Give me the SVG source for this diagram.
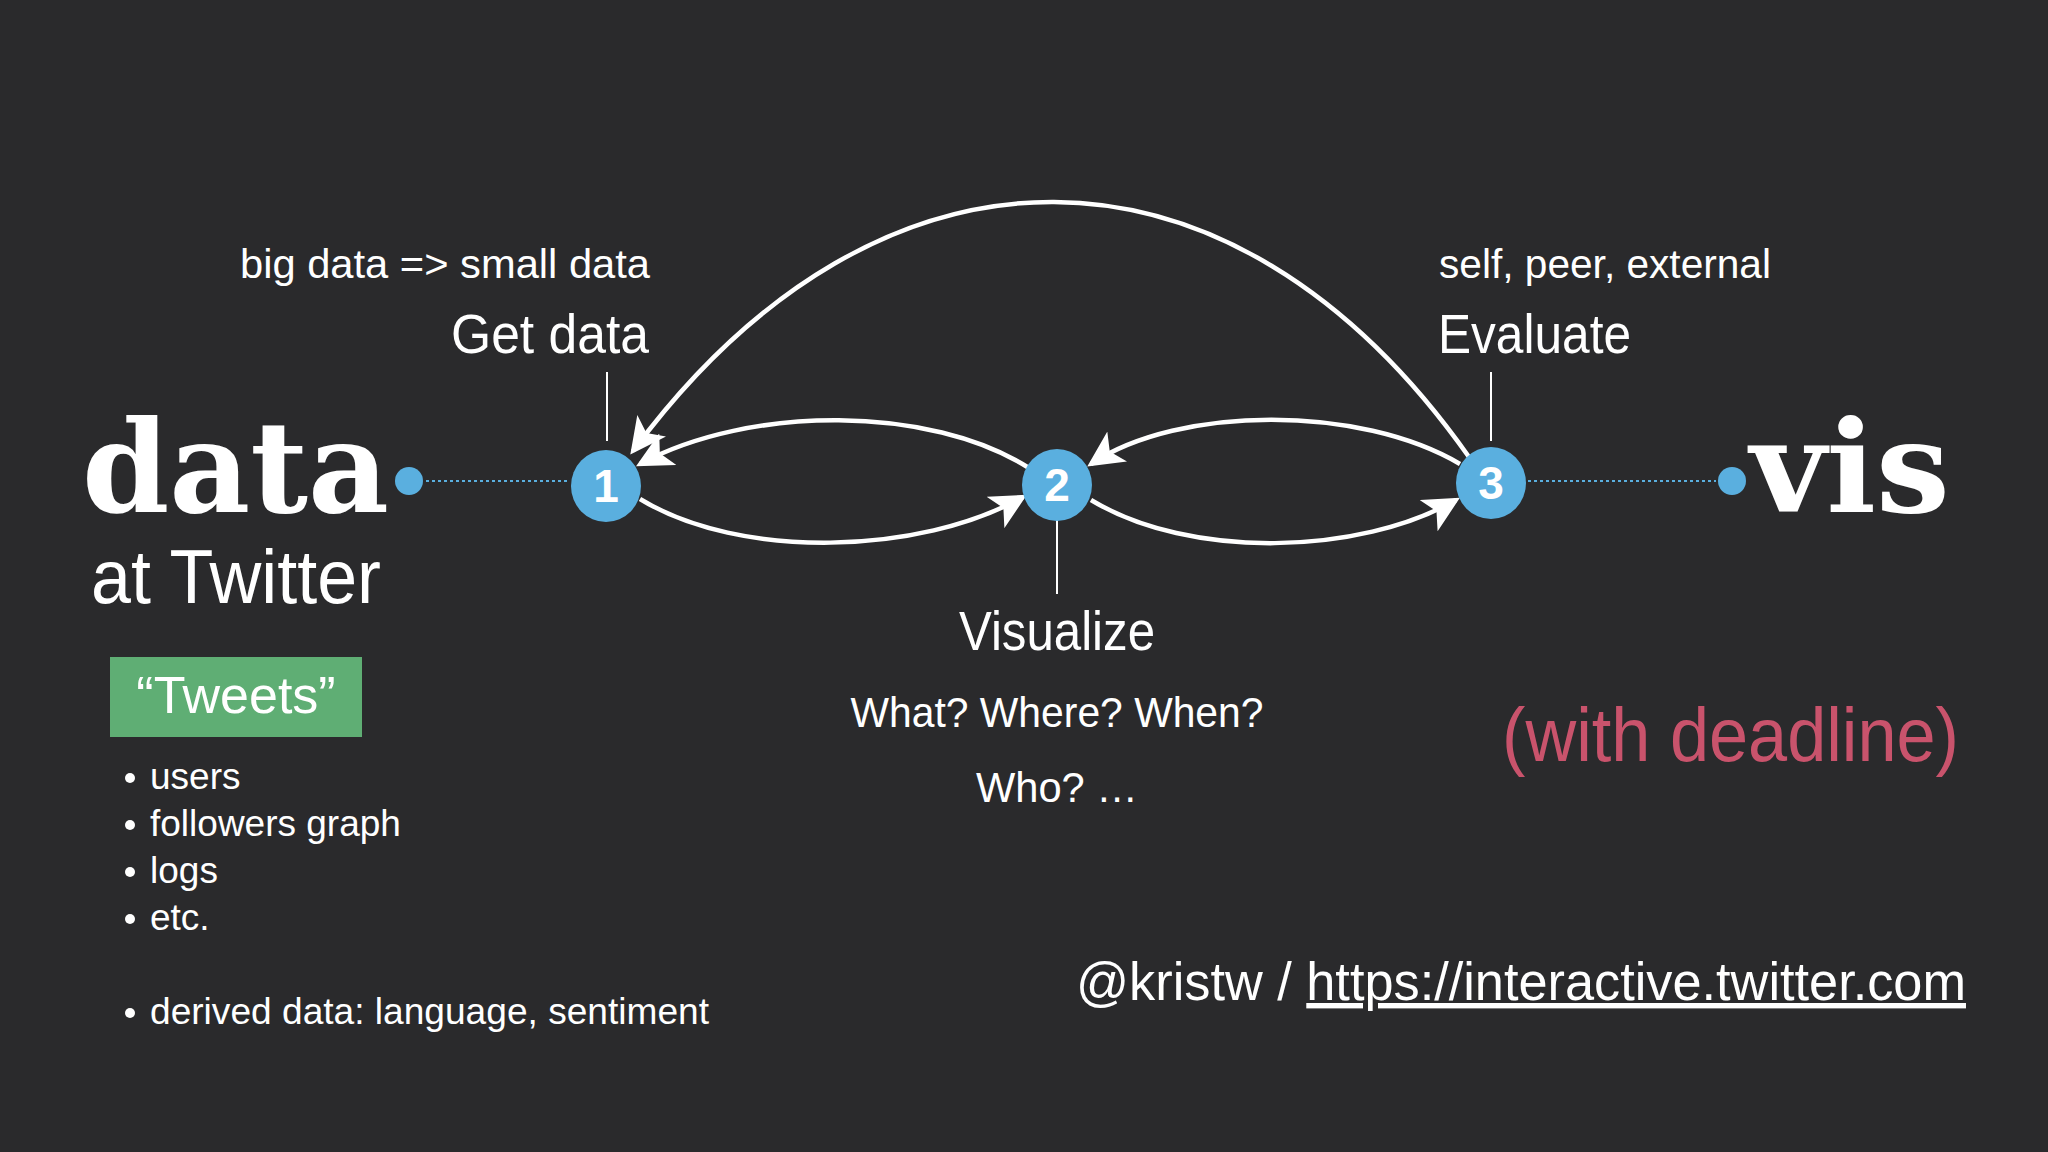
<svg xmlns="http://www.w3.org/2000/svg" width="2048" height="1152" viewBox="0 0 2048 1152">
<style>
.t{font-family:"Helvetica Neue","Liberation Sans",Arial,sans-serif;fill:#ffffff;font-weight:300}
.c{fill:#5aafdf}
.n{font-family:"Liberation Sans",Arial,sans-serif;font-weight:bold;fill:#fff;font-size:46px;text-anchor:middle}
.e{fill:none;stroke:#fff;stroke-width:4.5}
.tick{stroke:#fff;stroke-width:2}
.dot{stroke:#5aafdf;stroke-width:2;stroke-dasharray:3 3}
</style>
<defs>
<marker id="ah" markerWidth="8" markerHeight="8" refX="7" refY="4" orient="auto" markerUnits="strokeWidth">
<path d="M0,0 L8,4 L0,8 L2,4 Z" fill="#fff"/>
</marker>
</defs>
<rect width="2048" height="1152" fill="#2a2a2c"/>
<g id="title-data">
<text x="82" y="512" font-family="DejaVu Serif,serif" font-weight="bold" font-size="128" fill="#fff" textLength="307" lengthAdjust="spacingAndGlyphs">data</text>
<text class="t" x="91" y="603" font-size="76" textLength="290" lengthAdjust="spacingAndGlyphs">at Twitter</text>
</g>
<g id="title-vis">
<text x="1750" y="512" font-family="DejaVu Serif,serif" font-weight="bold" font-size="128" fill="#fff" textLength="200" lengthAdjust="spacingAndGlyphs">vis</text>
</g>
<g id="connectors">
<line class="dot" x1="426" y1="481" x2="570" y2="481"/>
<line class="dot" x1="1528" y1="481" x2="1716" y2="481"/>
<line class="tick" x1="607" y1="372" x2="607" y2="441"/>
<line class="tick" x1="1491" y1="372" x2="1491" y2="441"/>
<line class="tick" x1="1057" y1="520" x2="1057" y2="594"/>
<path class="e" d="M1469,457 C1230,118 880,118 633,451" marker-end="url(#ah)"/>
<path class="e" d="M1029,468 C930,405 750,405 640,464" marker-end="url(#ah)"/>
<path class="e" d="M640,499 C740,560 920,555 1023,497" marker-end="url(#ah)"/>
<path class="e" d="M1460,464 C1360,405 1180,405 1091,464" marker-end="url(#ah)"/>
<path class="e" d="M1091,500 C1190,560 1360,555 1456,500" marker-end="url(#ah)"/>
</g>
<g id="dot-left"><circle class="c" cx="409" cy="481" r="14"/></g>
<g id="dot-right"><circle class="c" cx="1732" cy="481" r="14"/></g>
<g id="node1"><ellipse class="c" cx="606" cy="486" rx="35" ry="36"/><text class="n" x="606" y="502">1</text></g>
<g id="node2"><ellipse class="c" cx="1057" cy="485" rx="35" ry="36"/><text class="n" x="1057" y="501">2</text></g>
<g id="node3"><ellipse class="c" cx="1491" cy="483" rx="35" ry="36"/><text class="n" x="1491" y="499">3</text></g>
<g id="label-get">
<text class="t" x="240" y="278" font-size="40" textLength="410" lengthAdjust="spacingAndGlyphs">big data =&gt; small data</text>
<text class="t" x="451" y="353" font-size="56" textLength="198" lengthAdjust="spacingAndGlyphs">Get data</text>
</g>
<g id="label-eval">
<text class="t" x="1439" y="278" font-size="40" textLength="332" lengthAdjust="spacingAndGlyphs">self, peer, external</text>
<text class="t" x="1438" y="353" font-size="56" textLength="193" lengthAdjust="spacingAndGlyphs">Evaluate</text>
</g>
<g id="label-vis">
<text class="t" x="1057" y="650" font-size="56" text-anchor="middle" textLength="196" lengthAdjust="spacingAndGlyphs">Visualize</text>
<text class="t" x="1057" y="727" font-size="42" text-anchor="middle" textLength="413" lengthAdjust="spacingAndGlyphs">What? Where? When?</text>
<text class="t" x="1057" y="802" font-size="42" text-anchor="middle" textLength="162" lengthAdjust="spacingAndGlyphs">Who? …</text>
</g>
<g id="tweets">
<rect x="110" y="657" width="252" height="80" fill="#5fae74"/>
<text class="t" x="236" y="713" font-size="52" text-anchor="middle">“Tweets”</text>
</g>
<g id="bullets">
<g fill="#fff"><circle cx="130" cy="778" r="5"/><circle cx="130" cy="825" r="5"/><circle cx="130" cy="872" r="5"/><circle cx="130" cy="919" r="5"/><circle cx="130" cy="1013" r="5"/></g>
<text class="t" x="150" y="789" font-size="37">users</text>
<text class="t" x="150" y="836" font-size="37">followers graph</text>
<text class="t" x="150" y="883" font-size="37">logs</text>
<text class="t" x="150" y="930" font-size="37">etc.</text>
<text class="t" x="150" y="1024" font-size="37" textLength="559" lengthAdjust="spacingAndGlyphs">derived data: language, sentiment</text>
</g>
<g id="deadline">
<text x="1502" y="761" font-family="Helvetica Neue,Liberation Sans,sans-serif" font-weight="300" font-size="76" fill="#c9536c" textLength="457" lengthAdjust="spacingAndGlyphs">(with deadline)</text>
</g>
<g id="credit">
<text class="t" x="1076" y="1000" font-size="54" textLength="890" lengthAdjust="spacingAndGlyphs">@kristw / <tspan text-decoration="underline">https://interactive.twitter.com</tspan></text>
</g>
</svg>
